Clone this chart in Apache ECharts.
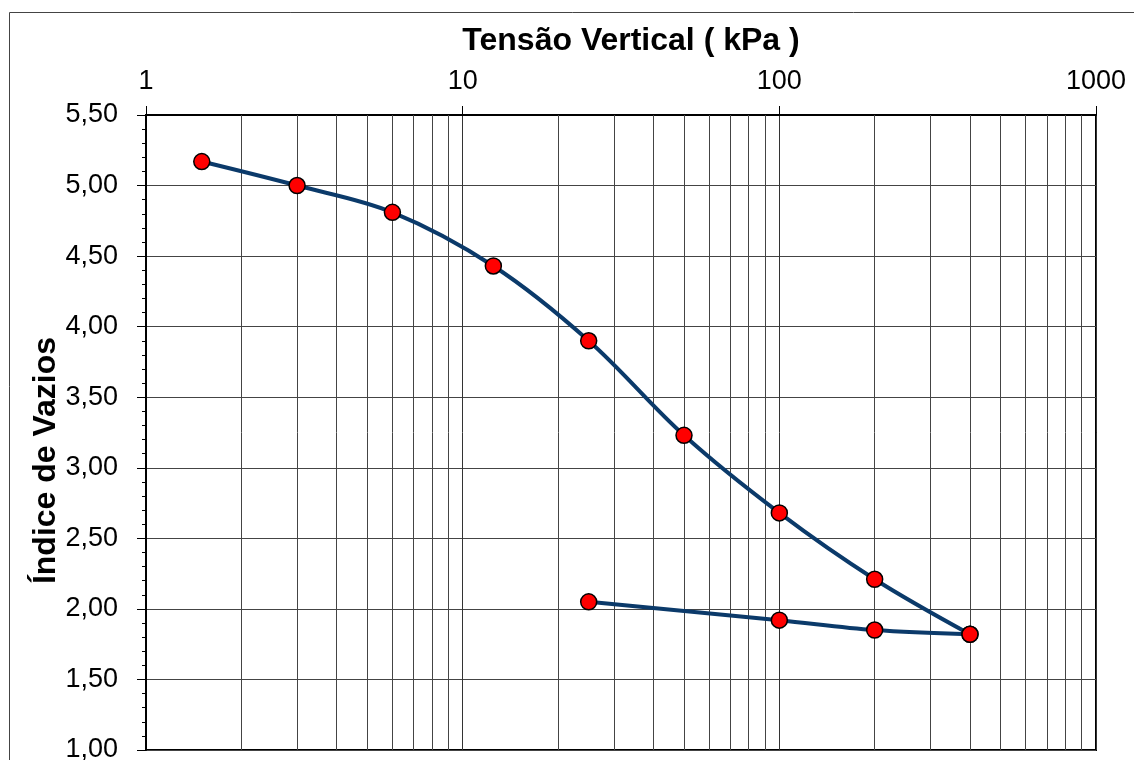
<!DOCTYPE html>
<html>
<head>
<meta charset="utf-8">
<script src="https://cdn.jsdelivr.net/npm/echarts@6/dist/echarts.min.js"></script>
<style>
  html, body { margin: 0; padding: 0; background: #fff; }
  #chart { width: 1134px; height: 760px; }
</style>
</head>
<body>
<div id="chart"></div>
<script>
// Ensaio de adensamento: curva índice de vazios x tensão vertical (escala log)
const tensaoCarga = [1.5, 3, 6, 12.5, 25, 50, 100, 200, 400];
const indiceCarga = [5.17, 5.00, 4.81, 4.43, 3.90, 3.23, 2.68, 2.21, 1.82];
const tensaoDescarga = [400, 200, 100, 25];
const indiceDescarga = [1.82, 1.85, 1.92, 2.05];
// Linhas verticais secundárias da escala logarítmica
const linhasMenores = [2, 3, 4, 5, 6, 7, 8, 9, 20, 30, 40, 50, 60, 70, 80, 90, 200, 300, 400, 500, 600, 700, 800, 900];
const rotulosX = [1, 10, 100, 1000];

const font = '"Liberation Sans", Arial, sans-serif';
const chart = echarts.init(document.getElementById('chart'));

const pares = (xs, ys) => xs.map((x, i) => [x, ys[i]]);

const estiloSerie = {
  type: 'line',
  smooth: 0.35,
  symbol: 'circle',
  symbolSize: 16,
  itemStyle: { color: '#ff0000', borderColor: '#000', borderWidth: 1.5 },
  lineStyle: { color: '#0b3a6a', width: 4 },
  z: 5,
  animation: false
};

chart.setOption({
  animation: false,
  graphic: [{
    type: 'rect',
    shape: { x: 9.5, y: 12.5, width: 1140, height: 760 },
    style: { fill: 'none', stroke: '#444', lineWidth: 1 },
    silent: true
  }],
  grid: {
    left: 146, top: 115, right: 38, bottom: 10,
    outerBoundsMode: 'none',
    containLabel: false,
    show: true, borderColor: '#000', borderWidth: 2, backgroundColor: 'transparent'
  },
  xAxis: {
    type: 'log',
    logBase: 10,
    min: 1,
    max: 1000,
    position: 'top',
    name: 'Tensão Vertical ( kPa )',
    nameLocation: 'middle',
    nameGap: 58,
    nameMoveOverlap: false,
    nameTextStyle: { fontFamily: font, fontSize: 32, fontWeight: 'bold', color: '#000', padding: [0, 0, 0, 20] },
    axisLine: { show: true, lineStyle: { color: '#000', width: 2 } },
    axisTick: { show: true, inside: false, length: 9, lineStyle: { color: '#000', width: 1 } },
    axisLabel: {
      fontFamily: font, fontSize: 27, color: '#000', margin: 20,
      formatter: v => rotulosX.includes(Math.round(v)) ? String(Math.round(v)) : ''
    },
    splitLine: { show: true, lineStyle: { color: '#333', width: 1 } },
    minorTick: { show: false },
    minorSplitLine: { show: false }
  },
  yAxis: {
    type: 'value',
    min: 1,
    max: 5.5,
    interval: 0.5,
    name: 'Índice de Vazios',
    nameLocation: 'middle',
    nameGap: 84,
    nameRotate: 90,
    nameMoveOverlap: false,
    nameTextStyle: { fontFamily: font, fontSize: 32, fontWeight: 'bold', color: '#000', padding: [0, 56, 0, 0] },
    axisLine: { show: true, lineStyle: { color: '#000', width: 2 } },
    axisTick: { show: true, inside: false, length: 9, lineStyle: { color: '#000', width: 1 } },
    minorTick: { show: true, splitNumber: 5, length: 4, lineStyle: { color: '#000', width: 1 } },
    axisLabel: {
      fontFamily: font, fontSize: 27, color: '#000', margin: 28,
      formatter: v => v.toFixed(2).replace('.', ',')
    },
    splitLine: { show: true, lineStyle: { color: '#444', width: 1 } }
  },
  series: [
    {
      type: 'line',
      data: [],
      silent: true,
      z: 1,
      markLine: {
        silent: true,
        symbol: ['none', 'none'],
        label: { show: false },
        animation: false,
        lineStyle: { color: '#444', width: 1, type: 'solid' },
        data: linhasMenores.map(v => ({ xAxis: v }))
      }
    },
    Object.assign({ name: 'Carregamento', data: pares(tensaoCarga, indiceCarga) }, estiloSerie),
    Object.assign({ name: 'Descarregamento', data: pares(tensaoDescarga, indiceDescarga) }, estiloSerie)
  ]
});
</script>
</body>
</html>
